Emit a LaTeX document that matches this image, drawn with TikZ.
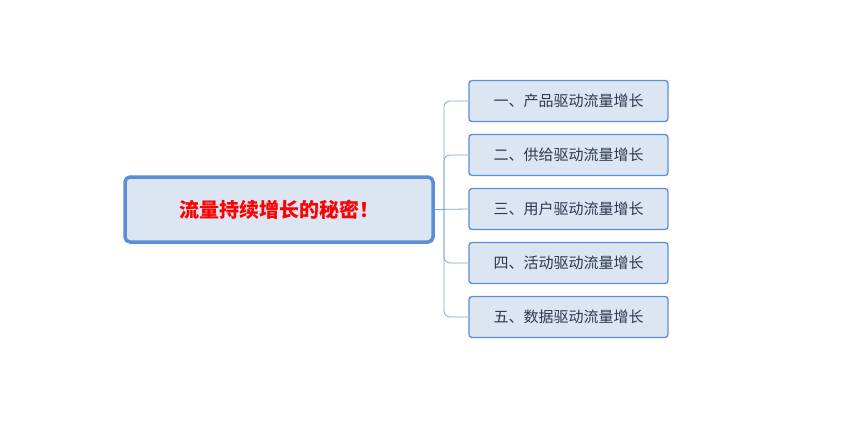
\documentclass[tikz,border=0pt]{standalone}
\usepackage{fontspec}
\setmainfont{Noto Sans CJK SC}
\definecolor{fillb}{HTML}{DCE5F2}
\definecolor{lineb}{HTML}{5B8ED6}
\definecolor{txt}{HTML}{2B3A4F}
\begin{document}
\begin{tikzpicture}[x=1pt,y=-1pt,
  child/.style={draw=lineb,line width=1.3pt,fill=fillb,rounded corners=3pt,minimum width=199pt,minimum height=41pt,inner sep=0pt,font=\fontsize{15}{18}\selectfont,text=txt},
  conn/.style={draw=lineb!80,line width=0.8pt,rounded corners=6pt}]
\useasboundingbox (0,0) rectangle (850,424);
\node[draw=lineb,line width=3.5pt,fill=fillb,rounded corners=5pt,minimum width=308pt,minimum height=65pt,inner sep=0pt,font=\bfseries\fontsize{20}{24}\selectfont,text=red] (root) at (279,209.5) {流量持续增长的秘密！};
\node[child] (c1) at (568.5,101) {一、产品驱动流量增长};
\node[child] (c2) at (568.5,155) {二、供给驱动流量增长};
\node[child] (c3) at (568.5,209) {三、用户驱动流量增长};
\node[child] (c4) at (568.5,263) {四、活动驱动流量增长};
\node[child] (c5) at (568.5,317) {五、数据驱动流量增长};
\coordinate (t) at (444,209);
\draw[conn] (root.east) -- (c3.west);
\foreach \c in {c1,c2,c4,c5}{\draw[conn] (t) |- (\c.west);}
\end{tikzpicture}
\end{document}
